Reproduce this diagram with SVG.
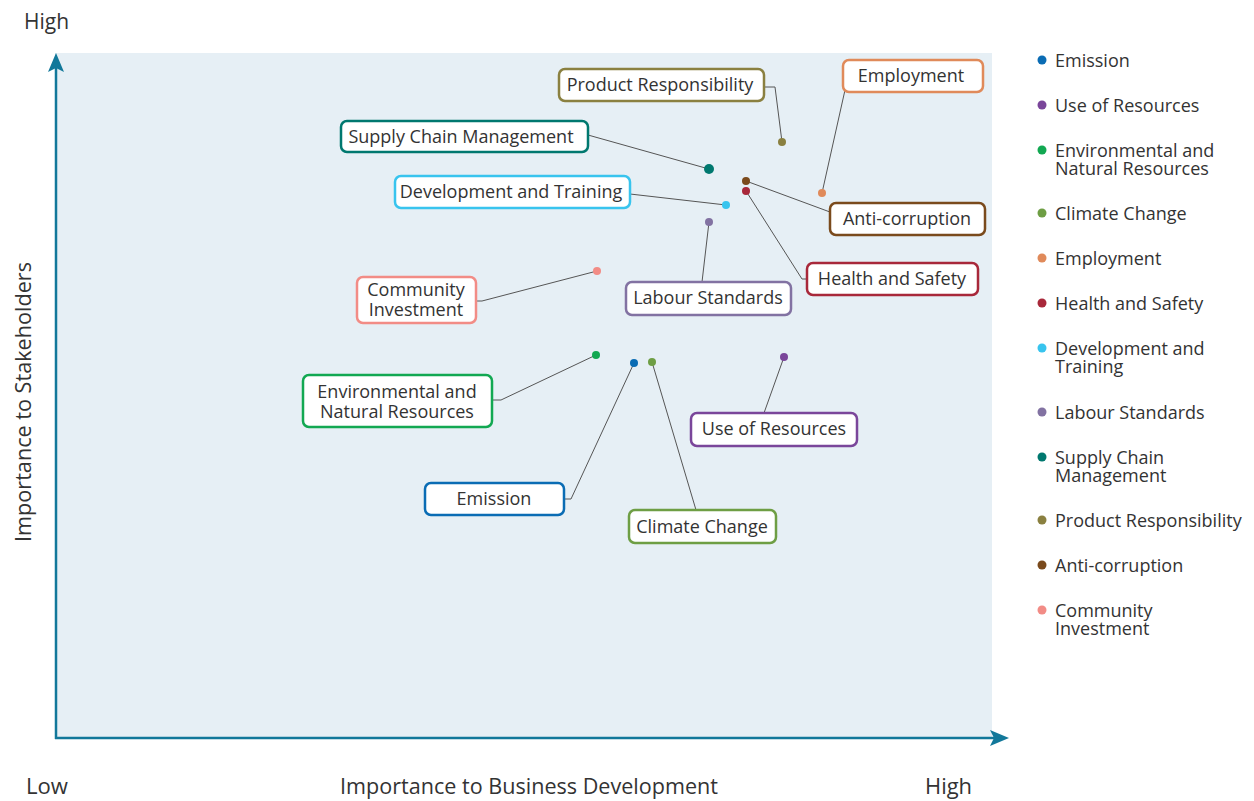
<svg xmlns="http://www.w3.org/2000/svg" width="1254" height="801" viewBox="0 0 1254 801">
<style>
text{font-family:"Open Sans","Noto Sans","Liberation Sans",sans-serif;fill:#333;}
.lbl{font-size:18px;text-anchor:middle;}
.leg{font-size:18px;}
.ax{font-size:21px;}
.box{fill:#fff;stroke-width:2.5;}
.con{fill:none;stroke:#555;stroke-width:1;}
.axis{stroke:#12789a;stroke-width:2.5;fill:none;}
</style>
<rect x="55" y="53" width="937" height="685" fill="#e6eff5"/>
<g id="axes">
<line class="axis" x1="56" y1="739" x2="56" y2="66"/>
<polygon points="56,53 48,72 56,68 64,72" fill="#12789a"/>
<line class="axis" x1="55" y1="738" x2="996" y2="738"/>
<polygon points="1009,738 990,730 994,738 990,746" fill="#12789a"/>
<text class="ax" x="24" y="29">High</text>
<text class="ax" x="26" y="794" textLength="42" lengthAdjust="spacingAndGlyphs">Low</text>
<text class="ax" x="340" y="794" textLength="378" lengthAdjust="spacingAndGlyphs">Importance to Business Development</text>
<text class="ax" x="925" y="794" textLength="47" lengthAdjust="spacingAndGlyphs">High</text>
<text class="ax" transform="translate(31,402) rotate(-90)" text-anchor="middle" textLength="280" lengthAdjust="spacingAndGlyphs">Importance to Stakeholders</text>
</g>
<g id="connectors">
<polyline class="con" points="764,87 775,87 782,142"/>
<polyline class="con" points="845,90 822,193"/>
<polyline class="con" points="588,135 709,169"/>
<polyline class="con" points="630,194 726,205"/>
<polyline class="con" points="746,181 830,212"/>
<polyline class="con" points="746,191 802,279 807,279"/>
<polyline class="con" points="709,222 702,282"/>
<polyline class="con" points="597,271 482,301 476,301"/>
<polyline class="con" points="596,355 501,400 492,400"/>
<polyline class="con" points="634,363 571,499 564,499"/>
<polyline class="con" points="652,362 696,510"/>
<polyline class="con" points="784,357 764,413"/>
</g>
<g id="n-product">
<rect class="box" x="559" y="69" width="205" height="32" rx="6" stroke="#8a8040"/>
<text class="lbl" x="660" y="91">Product Responsibility</text>
<circle cx="782" cy="142" r="4" fill="#8a8040"/>
</g>
<g id="n-employment">
<rect class="box" x="843" y="60" width="140" height="32" rx="6" stroke="#e08a5a"/>
<text class="lbl" x="911" y="82">Employment</text>
<circle cx="822" cy="193" r="4" fill="#e08a5a"/>
</g>
<g id="n-supply">
<rect class="box" x="341" y="121" width="247" height="31" rx="6" stroke="#00786f"/>
<text class="lbl" x="461" y="143">Supply Chain Management</text>
<circle cx="709" cy="169" r="5" fill="#00786f"/>
</g>
<g id="n-devtrain">
<rect class="box" x="395" y="176" width="235" height="32" rx="6" stroke="#38c4ee"/>
<text class="lbl" x="511" y="198">Development and Training</text>
<circle cx="726" cy="205" r="4" fill="#38c4ee"/>
</g>
<g id="n-anticorr">
<rect class="box" x="830" y="203" width="155" height="32" rx="6" stroke="#7a4a1c"/>
<text class="lbl" x="907" y="225">Anti-corruption</text>
<circle cx="746" cy="181" r="4" fill="#7a4a1c"/>
</g>
<g id="n-health">
<rect class="box" x="807" y="263" width="171" height="32" rx="6" stroke="#a8283a"/>
<text class="lbl" x="892" y="285">Health and Safety</text>
<circle cx="746" cy="191" r="4" fill="#a8283a"/>
</g>
<g id="n-labour">
<rect class="box" x="626" y="282" width="165" height="33" rx="6" stroke="#8272a2"/>
<text class="lbl" x="708" y="304">Labour Standards</text>
<circle cx="709" cy="222" r="4" fill="#8272a2"/>
</g>
<g id="n-community">
<rect class="box" x="357" y="277" width="119" height="46" rx="6" stroke="#f28c86"/>
<text class="lbl" x="416" y="296">Community</text>
<text class="lbl" x="416" y="316">Investment</text>
<circle cx="597" cy="271" r="4" fill="#f28c86"/>
</g>
<g id="n-env">
<rect class="box" x="303" y="375" width="189" height="52" rx="6" stroke="#12a852"/>
<text class="lbl" x="397" y="398">Environmental and</text>
<text class="lbl" x="397" y="418">Natural Resources</text>
<circle cx="596" cy="355" r="4" fill="#12a852"/>
</g>
<g id="n-useres">
<rect class="box" x="691" y="413" width="166" height="33" rx="6" stroke="#7a469a"/>
<text class="lbl" x="774" y="435">Use of Resources</text>
<circle cx="784" cy="357" r="4" fill="#7a469a"/>
</g>
<g id="n-emission">
<rect class="box" x="425" y="483" width="139" height="32" rx="6" stroke="#0a6cb4"/>
<text class="lbl" x="494" y="505">Emission</text>
<circle cx="634" cy="363" r="4" fill="#0a6cb4"/>
</g>
<g id="n-climate">
<rect class="box" x="629" y="510" width="147" height="33" rx="6" stroke="#6e9e44"/>
<text class="lbl" x="702" y="533">Climate Change</text>
<circle cx="652" cy="362" r="4" fill="#6e9e44"/>
</g>
<g id="legend">
<circle cx="1042" cy="60" r="4.5" fill="#0a6cb4"/><text class="leg" x="1055" y="67">Emission</text>
<circle cx="1042" cy="105" r="4.5" fill="#7a469a"/><text class="leg" x="1055" y="112">Use of Resources</text>
<circle cx="1042" cy="150" r="4.5" fill="#12a852"/><text class="leg" x="1055" y="157">Environmental and</text><text class="leg" x="1055" y="175">Natural Resources</text>
<circle cx="1042" cy="213" r="4.5" fill="#6e9e44"/><text class="leg" x="1055" y="220">Climate Change</text>
<circle cx="1042" cy="258" r="4.5" fill="#e08a5a"/><text class="leg" x="1055" y="265">Employment</text>
<circle cx="1042" cy="303" r="4.5" fill="#a8283a"/><text class="leg" x="1055" y="310">Health and Safety</text>
<circle cx="1042" cy="348" r="4.5" fill="#38c4ee"/><text class="leg" x="1055" y="355">Development and</text><text class="leg" x="1055" y="373">Training</text>
<circle cx="1042" cy="412" r="4.5" fill="#8272a2"/><text class="leg" x="1055" y="419">Labour Standards</text>
<circle cx="1042" cy="457" r="4.5" fill="#00786f"/><text class="leg" x="1055" y="464">Supply Chain</text><text class="leg" x="1055" y="482">Management</text>
<circle cx="1042" cy="520" r="4.5" fill="#8a8040"/><text class="leg" x="1055" y="527">Product Responsibility</text>
<circle cx="1042" cy="565" r="4.5" fill="#7a4a1c"/><text class="leg" x="1055" y="572">Anti-corruption</text>
<circle cx="1042" cy="610" r="4.5" fill="#f28c86"/><text class="leg" x="1055" y="617">Community</text><text class="leg" x="1055" y="635">Investment</text>
</g>
</svg>
